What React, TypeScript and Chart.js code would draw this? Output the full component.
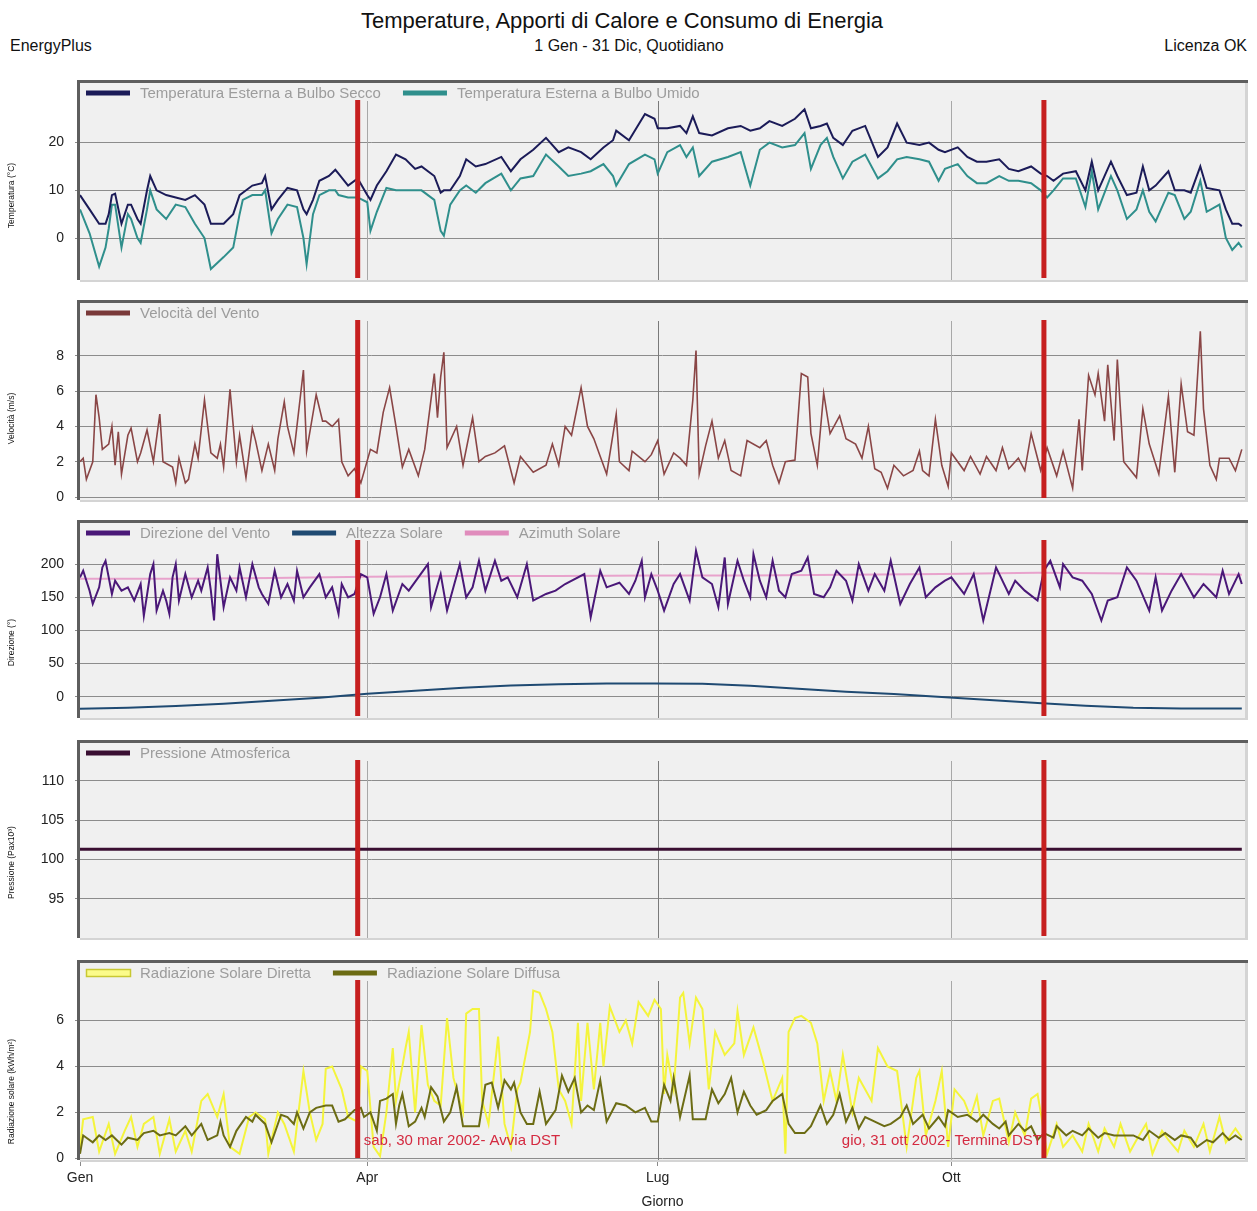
import React, { useEffect, useRef } from 'react';
import { Chart, registerables } from 'chart.js';

Chart.register(...registerables);

const FONT = '"Liberation Sans", Arial, Helvetica, sans-serif';

// Each entry: [day of year (0 = 1 Gen), value]
const dryBulb: number[][] = [
  [0, 9], [3, 6], [6, 3], [8, 3], [9, 5], [10, 9], [11, 9.3], [13, 3], [15, 7], [16, 7], [18, 4], [19, 3],
  [21, 10], [22, 13], [24, 10], [27, 9], [30, 8.5], [33, 8], [36, 9], [39, 7], [41, 3], [45, 3], [48, 5],
  [50, 9], [51, 9.5], [54, 11], [57, 11.5], [58, 13], [60, 6], [62, 8], [65, 10.5], [68, 10], [70, 6], [71, 5],
  [73, 8], [75, 12], [78, 13], [80, 14.3], [81, 13.5], [84, 11], [87, 12.5], [90, 9], [91, 8], [93, 11],
  [96, 14], [99, 17.5], [102, 16.5], [105, 14.5], [107, 15], [111, 13], [113, 9.5], [114, 10], [116, 10],
  [119, 13], [121, 16.5], [124, 15], [127, 15.5], [132, 17], [135, 14], [138, 16.5], [142, 18.5], [146, 21],
  [150, 18], [153, 19], [157, 18], [160, 16.5], [164, 19], [167, 20.5], [168, 22.5], [172, 20.5], [177, 26],
  [180, 25], [181, 23], [184, 23], [188, 23.5], [190, 22], [192, 25.5], [194, 22], [198, 21.5], [203, 23],
  [207, 23.5], [210, 22.5], [213, 23], [216, 24.5], [220, 23.5], [224, 25], [227, 27], [229, 23], [232, 23.5],
  [234, 24], [236, 21], [239, 19.5], [242, 22.5], [246, 23.5], [250, 17], [253, 19], [256, 24], [259, 20],
  [263, 19.5], [266, 20], [269, 18.5], [271, 18], [275, 19], [278, 17], [281, 16], [284, 16], [288, 16.5],
  [291, 14.5], [294, 14], [298, 15], [301, 13.5], [303, 13], [305, 12], [308, 13.5], [312, 14], [315, 10],
  [317, 16], [319, 10], [323, 16], [325, 13], [328, 9], [331, 9.5], [333, 15], [335, 10], [337, 11],
  [341, 14], [343, 10], [346, 10], [348, 9.5], [351, 15], [353, 10.5], [357, 10], [359, 6], [361, 3],
  [363, 3], [364, 2.5],
];

const wetBulb: number[][] = [
  [0, 6], [3, 1], [6, -6], [8, -2], [9, 2], [10, 7], [11, 7], [13, -2], [15, 5], [16, 4], [18, 0], [19, -1],
  [21, 6], [22, 10], [24, 6], [27, 4], [30, 7], [33, 6.5], [36, 3], [39, 0], [41, -6.5], [45, -4], [48, -2],
  [50, 5], [51, 8], [54, 9], [57, 9], [58, 10], [60, 1], [62, 4], [65, 7], [68, 6.5], [70, 0], [71, -5.5],
  [73, 5], [75, 9], [78, 10], [80, 10], [81, 9], [84, 8.5], [87, 8.5], [90, 7.5], [91, 1.5], [93, 5.5],
  [96, 10.5], [99, 10], [102, 10], [105, 10], [107, 10], [111, 8], [113, 1.5], [114, 0.5], [116, 7],
  [119, 10], [121, 11], [124, 9.5], [127, 11.5], [132, 13.5], [135, 10], [138, 12.5], [142, 13], [146, 17.5],
  [150, 15], [153, 13], [157, 13.5], [160, 14], [164, 15.5], [167, 13], [168, 11], [172, 15.5], [177, 17.5],
  [180, 16.5], [181, 13.5], [184, 18], [188, 19.5], [190, 17], [192, 19], [194, 13], [198, 16], [203, 17],
  [207, 18], [210, 11], [213, 18.5], [216, 20], [220, 19], [224, 19.5], [227, 22], [229, 14.5], [232, 19.5],
  [234, 21], [236, 17], [239, 12.5], [242, 16], [246, 17.5], [250, 12.5], [253, 14], [256, 16.5], [259, 17],
  [263, 16.5], [266, 16], [269, 12], [271, 14.5], [275, 15.5], [278, 13], [281, 11.5], [284, 11.5], [288, 13],
  [291, 12], [294, 12], [298, 11.5], [301, 10], [303, 8.5], [305, 10], [308, 12.5], [312, 12.5], [315, 6.5],
  [317, 14], [319, 6], [323, 13], [325, 10], [328, 4], [331, 6], [333, 10], [335, 5.5], [337, 3.5],
  [341, 9.5], [343, 9], [346, 4], [348, 5.5], [351, 12], [353, 5.5], [357, 7], [359, 0], [361, -2.5],
  [363, -1], [364, -2],
];

const windSpeed: number[][] = [
  [0, 2], [1, 2.2], [2, 1], [4, 2], [5, 5.8], [6, 4.5], [7, 2.7], [9, 3], [10, 4], [11, 1.8], [12, 3.7],
  [13, 1.3], [15, 3.5], [16, 3.9], [18, 2], [19, 2.5], [21, 3.8], [23, 2], [25, 4.7], [26, 2], [29, 1.7],
  [30, 0.8], [31, 2.2], [33, 0.8], [34, 1], [36, 3], [37, 2.2], [39, 5.5], [41, 2.5], [43, 2.2], [44, 3],
  [45, 1.7], [47, 6.1], [49, 2], [50, 3.5], [52, 1.1], [54, 3.9], [55, 3.2], [57, 1.5], [59, 3], [61, 1.5],
  [62, 3.3], [64, 5.4], [65, 4], [67, 2.5], [70, 7.2], [71, 2.6], [74, 5.8], [76, 4.3], [77, 4.3], [79, 4],
  [81, 4.4], [82, 2], [84, 1.2], [86, 1.6], [88, 0.8], [91, 2.7], [93, 2.5], [95, 4.8], [97, 6.2], [99, 4],
  [101, 1.7], [103, 2.7], [106, 1.2], [108, 2.7], [111, 7], [112, 4.5], [113, 6.8], [114, 8.2], [115, 2.8],
  [118, 4], [120, 1.8], [123, 4.5], [125, 2], [127, 2.3], [130, 2.5], [133, 2.9], [136, 0.8], [138, 2.3],
  [142, 1.4], [146, 1.8], [148, 3], [150, 1.8], [152, 4], [154, 3.5], [157, 6.2], [159, 4], [161, 3.3],
  [163, 2.3], [165, 1.3], [168, 4.7], [169, 2], [172, 1.5], [173, 2.6], [177, 2], [179, 2.4], [181, 3.2],
  [183, 1.3], [186, 2.5], [188, 2.2], [190, 1.8], [192, 5.5], [193, 8.3], [194, 1.3], [196, 2.9], [198, 4.3],
  [200, 2.2], [202, 3.2], [204, 1.5], [207, 1.2], [209, 3.2], [213, 2.8], [215, 3.2], [217, 1.8], [219, 0.8],
  [221, 2], [224, 2.1], [226, 7], [228, 6.8], [229, 3.6], [231, 1.8], [233, 5.9], [235, 3.6], [238, 4.6],
  [240, 3.3], [243, 3], [245, 2.2], [247, 4], [249, 1.6], [251, 1.4], [253, 0.5], [255, 1.8], [258, 1.2],
  [261, 1.5], [263, 2.6], [264, 1.5], [266, 1.2], [268, 4.4], [270, 1.8], [272, 0.6], [273, 2.5], [277, 1.5],
  [279, 2.3], [282, 1.3], [284, 2.3], [287, 1.5], [289, 2.8], [291, 1.6], [294, 2.2], [296, 1.5], [298, 3.6],
  [301, 1.5], [303, 2.8], [306, 1.2], [308, 2.6], [311, 0.5], [313, 4.4], [314, 1.5], [316, 6.9], [318, 5.8],
  [319, 7], [321, 4.3], [322, 7.5], [324, 3.2], [325, 7.8], [327, 2], [331, 1.1], [333, 5], [335, 3],
  [338, 1.3], [341, 5.7], [343, 1.4], [345, 6.4], [347, 3.7], [349, 3.5], [351, 9.4], [352, 5], [354, 1.8],
  [356, 1], [357, 2.2], [360, 2.2], [362, 1.5], [364, 2.7],
];

const windDirection: number[][] = [
  [0, 180], [1, 190], [3, 160], [4, 140], [6, 165], [7, 195], [8, 205], [10, 155], [11, 175], [13, 160],
  [15, 165], [17, 145], [19, 170], [20, 122], [22, 185], [23, 200], [24, 130], [26, 160], [27, 145], [28, 125],
  [29, 180], [30, 200], [31, 145], [33, 185], [35, 150], [37, 175], [38, 160], [40, 195], [41, 160], [42, 115],
  [43, 215], [45, 135], [47, 180], [49, 160], [50, 195], [52, 150], [54, 200], [56, 165], [57, 155], [59, 140],
  [61, 190], [63, 150], [65, 170], [67, 145], [68, 190], [70, 150], [72, 165], [75, 185], [77, 150], [79, 165],
  [81, 125], [82, 170], [84, 150], [86, 155], [88, 185], [90, 180], [92, 125], [94, 150], [96, 185], [98, 130],
  [101, 170], [103, 160], [106, 180], [109, 200], [110, 135], [113, 185], [115, 130], [117, 165], [119, 200],
  [121, 150], [123, 165], [125, 205], [127, 160], [130, 205], [132, 175], [134, 180], [137, 150], [140, 200],
  [142, 145], [146, 155], [149, 160], [152, 170], [158, 185], [160, 120], [163, 190], [165, 165], [169, 172],
  [172, 155], [174, 175], [176, 205], [177, 150], [179, 185], [181, 160], [183, 130], [186, 170], [188, 185],
  [191, 145], [193, 220], [195, 180], [198, 170], [200, 135], [202, 210], [203, 140], [206, 205], [208, 175],
  [210, 150], [211, 215], [213, 175], [215, 150], [217, 205], [219, 160], [221, 150], [223, 185], [226, 190],
  [228, 210], [230, 155], [233, 150], [235, 165], [237, 190], [240, 175], [242, 145], [244, 200], [247, 160],
  [249, 185], [252, 160], [254, 205], [257, 140], [260, 170], [263, 195], [265, 150], [268, 165], [271, 175],
  [273, 180], [277, 155], [280, 185], [283, 115], [286, 175], [287, 195], [291, 155], [293, 175], [296, 160],
  [300, 145], [302, 190], [304, 205], [307, 165], [308, 200], [311, 180], [314, 175], [317, 155], [320, 115],
  [322, 145], [325, 150], [328, 195], [331, 175], [335, 130], [337, 180], [339, 130], [342, 160], [345, 185],
  [349, 150], [352, 170], [356, 150], [358, 190], [360, 155], [363, 185], [364, 170],
];

const solarAltitude: number[][] = [
  [0, -18], [15, -16.5], [30, -14], [45, -10.5], [60, -6], [75, -1.5], [90, 4.5], [105, 9], [120, 13.5],
  [135, 17], [150, 19], [165, 20], [180, 20], [195, 19.5], [210, 16.5], [225, 12], [240, 7.5], [255, 4],
  [270, -0.5], [285, -5], [300, -9.5], [315, -13.5], [330, -16.5], [345, -17.5], [364, -17.5],
];

const solarAzimuth: number[][] = [
  [0, 178], [30, 178], [60, 179], [90, 181], [120, 182], [150, 182], [180, 183], [210, 183], [240, 184],
  [270, 185], [300, 187], [330, 186], [364, 184],
];

const pressure: number[][] = [[0, 101.3], [364, 101.3]];

const directRad: number[][] = [
  [0, 0.5], [1, 1.7], [4, 1.8], [6, 0.3], [9, 1.5], [11, 0.2], [14, 1.2], [16, 1.8], [18, 0.5], [20, 1.5],
  [23, 1.8], [25, 0.2], [28, 1.7], [30, 0.3], [33, 1.2], [35, 0.3], [38, 2.5], [40, 2.8], [43, 1.8], [45, 2.8],
  [47, 0.5], [50, 0.2], [53, 1.8], [55, 2], [58, 1.7], [59, 0.2], [62, 2], [64, 1.5], [67, 0.3], [70, 3.8],
  [72, 2], [74, 0.8], [76, 1.5], [77, 3.9], [79, 4], [82, 3], [84, 1.8], [87, 1.6], [88, 4], [90, 3.8],
  [92, 0.5], [94, 0.1], [96, 2], [98, 4.8], [99, 2.5], [101, 4], [102, 4.8], [103, 5.5], [105, 2], [107, 5.8],
  [109, 3.2], [111, 2.5], [113, 2.3], [115, 6.1], [117, 3.5], [120, 2], [121, 6.3], [123, 6.5], [125, 6.5],
  [126, 2.5], [128, 1.5], [131, 5.3], [133, 1.5], [135, 0.5], [137, 3], [138, 3.3], [141, 5.5], [142, 7.3],
  [144, 7.2], [146, 6.5], [148, 5.5], [150, 3], [152, 2.5], [154, 1.5], [156, 5.9], [157, 2.5], [159, 5.9],
  [161, 3], [163, 5.9], [164, 4], [166, 6.6], [169, 5.5], [171, 6], [173, 5], [175, 6.8], [178, 6.2],
  [180, 6.9], [182, 6.5], [183, 2.8], [184, 4.5], [186, 3], [188, 7], [189, 7.2], [191, 5], [193, 7],
  [195, 6.5], [197, 3], [199, 5.5], [202, 4.5], [205, 5], [206, 6.4], [208, 4.5], [211, 5.7], [214, 4.2],
  [217, 2.5], [220, 3.5], [221, 0.2], [222, 5.5], [224, 6.1], [226, 6.2], [229, 5.9], [231, 5], [233, 2.5],
  [235, 3.8], [237, 2.5], [239, 4.5], [242, 2], [244, 3.5], [248, 2.5], [250, 4.8], [253, 4], [256, 3.8],
  [259, 0.5], [262, 3.5], [263, 3.8], [265, 1], [268, 2.5], [270, 3.8], [272, 0.5], [274, 3], [277, 2.5],
  [279, 1.8], [281, 2.7], [283, 1], [286, 2.5], [288, 2.6], [291, 0.7], [293, 2], [296, 1], [298, 2.6],
  [300, 2.8], [301, 2], [303, 0.2], [306, 1.5], [308, 0.5], [311, 1], [314, 0.3], [316, 1.5], [319, 0.3],
  [321, 1.3], [324, 0.5], [326, 1.5], [329, 0.3], [331, 0.8], [334, 1.5], [336, 0.2], [339, 1.2], [341, 0.8],
  [344, 0.3], [346, 1.2], [349, 0.5], [352, 1.5], [354, 0.3], [357, 1.8], [359, 0.7], [362, 1.3], [364, 0.9],
];

const diffuseRad: number[][] = [
  [0, 0.2], [1, 1.0], [2, 0.9], [4, 0.7], [6, 1.0], [8, 0.8], [10, 1.0], [13, 0.6], [15, 0.9], [18, 0.8],
  [20, 1.1], [23, 1.2], [25, 1.0], [28, 1.1], [30, 1.0], [33, 1.4], [35, 1.0], [38, 1.5], [40, 0.8], [43, 1.0],
  [44, 1.6], [45, 1.0], [47, 0.5], [49, 1.2], [52, 1.8], [54, 1.6], [55, 1.9], [58, 1.5], [60, 0.7], [63, 1.9],
  [65, 1.8], [67, 1.5], [68, 2.0], [70, 1.3], [72, 2.0], [74, 2.2], [77, 2.3], [79, 2.3], [81, 1.6], [83, 1.7],
  [86, 2.1], [88, 2.2], [89, 1.8], [91, 2.0], [93, 1.2], [94, 2.5], [96, 2.6], [98, 2.8], [99, 1.5], [100, 2.3],
  [101, 2.8], [103, 1.4], [105, 1.6], [107, 2.2], [108, 1.8], [110, 3.1], [112, 2.7], [114, 1.6], [116, 2.0],
  [118, 3.1], [120, 1.4], [123, 1.4], [125, 1.4], [127, 3.2], [129, 3.3], [131, 2.2], [133, 3.4], [135, 3.0],
  [136, 3.3], [138, 2.0], [140, 1.5], [142, 1.5], [144, 2.9], [146, 1.5], [149, 2.1], [151, 3.6], [153, 2.9],
  [155, 3.5], [157, 2.0], [159, 2.3], [161, 2.1], [163, 3.4], [165, 1.6], [168, 2.4], [171, 2.3], [174, 2.0],
  [177, 2.2], [179, 1.6], [181, 1.6], [183, 3.2], [185, 2.5], [186, 3.5], [188, 1.8], [191, 3.6], [192, 1.7],
  [196, 1.7], [198, 3.0], [200, 2.4], [202, 2.8], [204, 3.5], [206, 2.0], [208, 2.9], [210, 2.3], [212, 1.9],
  [215, 2.1], [217, 2.5], [220, 2.8], [222, 1.5], [224, 1.1], [227, 1.1], [229, 1.4], [232, 2.3], [234, 1.5],
  [236, 1.9], [238, 2.8], [240, 1.6], [242, 2.2], [244, 1.3], [246, 1.8], [249, 1.6], [252, 1.4], [254, 1.5],
  [257, 1.8], [259, 2.3], [261, 1.5], [264, 1.9], [266, 1.3], [269, 1.8], [271, 1.4], [272, 2.1], [275, 1.8],
  [278, 1.9], [281, 1.6], [283, 1.9], [286, 1.5], [288, 1.3], [290, 1.6], [291, 1.0], [294, 1.5], [296, 1.2],
  [298, 1.4], [300, 0.8], [302, 1.1], [305, 0.9], [306, 1.4], [309, 1.0], [311, 1.2], [314, 1.0], [316, 1.3],
  [319, 0.9], [321, 1.1], [324, 1.0], [328, 1.0], [330, 1.0], [333, 0.8], [335, 1.2], [338, 0.9], [340, 1.1],
  [343, 0.8], [345, 1.0], [348, 0.9], [350, 0.5], [353, 0.8], [355, 0.7], [358, 1.1], [360, 0.8], [362, 1.0],
  [364, 0.8],
];

const monthTickDays = [0, 90, 181, 273];
const monthTickLabels = ['Gen', 'Apr', 'Lug', 'Ott'];

const dstDays = [87, 302];
const dstLabels = ['sab, 30 mar 2002- Avvia DST', 'gio, 31 ott 2002- Termina DST'];

const toPoints = (rows: number[][]) => rows.map(([d, v]) => ({ x: d, y: v }));

interface PanelDef {
  top: number;
  bottom: number;
  yMin: number;
  yMax: number;
  yTicks: number[];
  yTitle: string;
  yTitleOffset: number;
  yTitleSize: number;
  showX: boolean;
  showDst: boolean;
  datasets: any[];
}

const line = (label: string, color: string, rows: number[][], extra: any = {}) => ({
  label,
  data: toPoints(rows),
  borderColor: color,
  backgroundColor: color,
  borderWidth: 2,
  pointRadius: 0,
  tension: 0,
  fill: false,
  ...extra,
});

const panels: PanelDef[] = [
  {
    top: 83, bottom: 280, yMin: -8.8, yMax: 32.5, yTicks: [0, 10, 20],
    yTitle: 'Temperatura (°C)', yTitleOffset: 14, yTitleSize: 8.5, showX: false, showDst: false,
    datasets: [
      line('Temperatura Esterna a Bulbo Secco', '#1b1b58', dryBulb),
      line('Temperatura Esterna a Bulbo Umido', '#2f8f8c', wetBulb),
    ],
  },
  {
    top: 303, bottom: 500, yMin: -0.17, yMax: 11, yTicks: [0, 2, 4, 6, 8],
    yTitle: 'Velocità (m/s)', yTitleOffset: 17, yTitleSize: 8.5, showX: false, showDst: false,
    datasets: [line('Velocità del Vento', '#8a4646', windSpeed, { legendColor: '#7a3a3a', borderWidth: 1.6 })],
  },
  {
    top: 523, bottom: 718, yMin: -32, yMax: 262, yTicks: [0, 50, 100, 150, 200],
    yTitle: 'Direzione (°)', yTitleOffset: 22, yTitleSize: 8.5, showX: false, showDst: false,
    datasets: [
      line('Direzione del Vento', '#4a1878', windDirection),
      line('Altezza Solare', '#1f4a72', solarAltitude),
      line('Azimuth Solare', '#e8a2cc', solarAzimuth, { legendColor: '#e08cbc' }),
    ],
  },
  {
    top: 743, bottom: 938, yMin: 90, yMax: 114.8, yTicks: [95, 100, 105, 110],
    yTitle: 'Pressione (Pax10³)', yTitleOffset: 22, yTitleSize: 8.5, showX: false, showDst: false,
    datasets: [line('Pressione Atmosferica', '#3a0f32', pressure, { borderWidth: 3 })],
  },
  {
    top: 963, bottom: 1160, yMin: -0.07, yMax: 8.5, yTicks: [0, 2, 4, 6],
    yTitle: 'Radiazione solare (kWh/m²)', yTitleOffset: 30, yTitleSize: 8.5, showX: true, showDst: true,
    datasets: [
      line('Radiazione Solare Diretta', '#f4f43c', directRad, { order: 2, legendOutline: true }),
      line('Radiazione Solare Diffusa', '#6c6c14', diffuseRad, { order: 1 }),
    ],
  },
];

const PAD = 20;
const X_AXIS_H = 52;

function makePlugin(def: PanelDef) {
  return {
    id: 'panelDecor',
    beforeDraw(chart: any) {
      const { ctx, chartArea: a } = chart;
      ctx.save();
      ctx.fillStyle = '#f0f0f0';
      ctx.fillRect(a.left, a.top, a.right - a.left, a.bottom - a.top);
      ctx.restore();
    },
    beforeDatasetsDraw(chart: any) {
      const { ctx, chartArea: a } = chart;
      const xs = chart.scales.x;
      ctx.save();
      ctx.lineWidth = 1;
      monthTickDays.forEach((d) => {
        if (d === 0) return;
        const px = Math.round(xs.getPixelForValue(d)) + 0.5;
        ctx.strokeStyle = d === 181 ? '#7a7a7a' : '#a8a8a8';
        ctx.beginPath();
        ctx.moveTo(px, a.top + 18);
        ctx.lineTo(px, a.bottom);
        ctx.stroke();
      });
      ctx.restore();
    },
    afterDatasetsDraw(chart: any) {
      const { ctx, chartArea: a } = chart;
      const xs = chart.scales.x;
      ctx.save();
      // DST markers
      ctx.strokeStyle = '#c61f1f';
      ctx.lineWidth = 5;
      const dstPx = dstDays.map((d) => xs.getPixelForValue(d));
      dstPx.forEach((px) => {
        ctx.beginPath();
        ctx.moveTo(px, a.top + 17);
        ctx.lineTo(px, a.bottom - 2);
        ctx.stroke();
      });
      if (def.showDst) {
        ctx.font = `15px ${FONT}`;
        ctx.fillStyle = '#d42a40';
        ctx.textBaseline = 'middle';
        ctx.textAlign = 'left';
        ctx.fillText(dstLabels[0], dstPx[0] + 6, a.bottom - 19);
        ctx.textAlign = 'right';
        ctx.fillText(dstLabels[1], dstPx[1] - 2, a.bottom - 19);
      }
      // frame
      ctx.fillStyle = '#5e5e5e';
      ctx.fillRect(a.left - 3, a.top - 3, a.right - a.left + 6, 3);
      ctx.fillRect(a.left - 3, a.top - 3, 3, a.bottom - a.top + 3);
      ctx.fillStyle = '#d4d4d4';
      ctx.fillRect(a.right, a.top, 3, a.bottom - a.top + 2);
      ctx.fillRect(a.left, a.bottom, a.right - a.left + 3, 2);
      // legend
      ctx.font = `15px ${FONT}`;
      ctx.textBaseline = 'middle';
      ctx.textAlign = 'left';
      let lx = a.left + 6;
      const ly = a.top + 10;
      chart.data.datasets.forEach((ds: any) => {
        if (ds.legendOutline) {
          ctx.fillStyle = '#fbfb8a';
          ctx.fillRect(lx, ly - 3, 44, 6);
          ctx.strokeStyle = '#c8c832';
          ctx.lineWidth = 1.5;
          ctx.strokeRect(lx + 0.5, ly - 3.5, 44, 7);
        } else {
          ctx.fillStyle = ds.legendColor || ds.borderColor;
          ctx.fillRect(lx, ly - 2.5, 44, 5);
        }
        ctx.fillStyle = '#9c9c9c';
        ctx.fillText(ds.label, lx + 54, ly + 1);
        lx += 54 + ctx.measureText(ds.label).width + 22;
      });
      // y-axis title
      ctx.translate(12, (a.top + a.bottom) / 2 + def.yTitleOffset);
      ctx.rotate(-Math.PI / 2);
      ctx.font = `${def.yTitleSize}px ${FONT}`;
      ctx.fillStyle = '#111';
      ctx.textAlign = 'center';
      ctx.textBaseline = 'middle';
      ctx.fillText(def.yTitle, 0, 0);
      ctx.restore();
    },
  };
}

function Panel({ def }: { def: PanelDef }) {
  const ref = useRef<HTMLCanvasElement | null>(null);
  const canvasTop = def.top - PAD;
  const height = def.showX ? def.bottom + X_AXIS_H - canvasTop : def.bottom + PAD - canvasTop;

  useEffect(() => {
    if (!ref.current) return;
    const tickFont = { family: FONT, size: 14 };
    const xScale: any = {
      type: 'linear',
      min: 0,
      max: 365,
      display: def.showX,
      afterBuildTicks: (s: any) => {
        s.ticks = monthTickDays.map((v) => ({ value: v }));
      },
      grid: { drawOnChartArea: false, drawTicks: true, tickLength: 6, color: '#8a8a8a' },
      border: { display: false },
      ticks: {
        autoSkip: false,
        maxRotation: 0,
        padding: 4,
        color: '#222',
        font: tickFont,
        callback: (v: any) => {
          const i = monthTickDays.indexOf(Number(v));
          return i >= 0 ? monthTickLabels[i] : '';
        },
      },
      title: { display: def.showX, text: 'Giorno', color: '#222', font: tickFont, padding: { top: 0, bottom: 1 } },
    };
    if (def.showX) {
      xScale.afterFit = (s: any) => {
        s.height = X_AXIS_H;
      };
    }
    const chart = new Chart(ref.current, {
      type: 'line',
      data: { datasets: def.datasets },
      options: {
        responsive: false,
        animation: false,
        devicePixelRatio: 1,
        layout: { padding: { left: 0, right: 12, top: PAD, bottom: def.showX ? 0 : PAD } },
        plugins: { legend: { display: false }, tooltip: { enabled: false } },
        scales: {
          x: xScale,
          y: {
            type: 'linear',
            min: def.yMin,
            max: def.yMax,
            afterBuildTicks: (s: any) => {
              s.ticks = def.yTicks.map((v) => ({ value: v }));
            },
            afterFit: (s: any) => {
              s.width = 80;
            },
            grid: { color: '#8c8c8c', lineWidth: 1, drawTicks: true, tickLength: 5 },
            border: { display: false },
            ticks: { color: '#222', font: tickFont, padding: 11 },
          },
        },
      } as any,
      plugins: [makePlugin(def)],
    });
    return () => chart.destroy();
  }, []);

  return (
    <canvas
      ref={ref}
      width={1257}
      height={height}
      style={{ position: 'absolute', left: 0, top: canvasTop, width: 1257, height }}
    />
  );
}

export default function App() {
  const textBase: React.CSSProperties = { position: 'absolute', whiteSpace: 'nowrap', color: '#111' };
  return (
    <div
      style={{
        position: 'absolute',
        left: 0,
        top: 0,
        width: 1257,
        height: 1211,
        background: '#ffffff',
        fontFamily: FONT,
        overflow: 'hidden',
      }}
    >
      <div style={{ ...textBase, left: 0, width: 1244, top: 8, height: 26, lineHeight: '26px', fontSize: 22, textAlign: 'center' }}>
        Temperature, Apporti di Calore e Consumo di Energia
      </div>
      <div style={{ ...textBase, left: 10, top: 36, height: 20, lineHeight: '20px', fontSize: 16 }}>EnergyPlus</div>
      <div style={{ ...textBase, left: 0, width: 1258, top: 36, height: 20, lineHeight: '20px', fontSize: 16, textAlign: 'center' }}>
        1 Gen - 31 Dic, Quotidiano
      </div>
      <div style={{ ...textBase, right: 10, top: 36, height: 20, lineHeight: '20px', fontSize: 16, textAlign: 'right' }}>Licenza OK</div>
      {panels.map((p, i) => (
        <Panel key={i} def={p} />
      ))}
    </div>
  );
}
